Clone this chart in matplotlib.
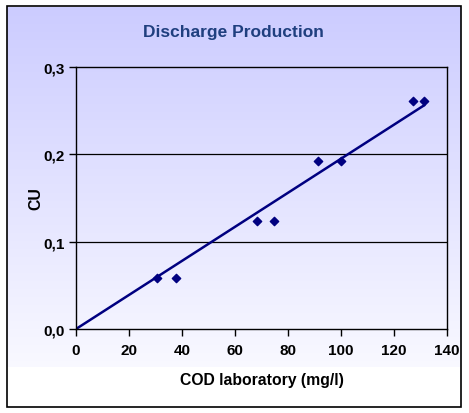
import matplotlib
matplotlib.use("Agg")
import matplotlib.pyplot as plt
import numpy as np
from matplotlib.patches import Rectangle
from matplotlib.ticker import FuncFormatter

plt.rcParams["font.family"] = ["Liberation Sans", "DejaVu Sans"]

# data
cod_lab = [30.6, 37.7, 68.3, 74.7, 91.3, 100.0, 127.2, 131.3]
cu = [0.058, 0.058, 0.124, 0.124, 0.192, 0.192, 0.261, 0.261]
trend_x = [0.0, 131.3]
trend_y = [0.0, 0.256]

W, H = 469, 414
fig = plt.figure(figsize=(W / 100, H / 100), dpi=100)


def fx(px):
    return px / W


def fy(py):
    return 1 - py / H


# gradient background
bg = fig.add_axes([fx(7), fy(368), fx(460) - fx(7), fy(8) - fy(368)])
grad = np.linspace(0, 1, 256).reshape(-1, 1)
top = np.array([0.80, 0.80, 1.0])
bot = np.array([0.975, 0.975, 1.0])
img = top + (bot - top) * grad[:, :, None]
bg.imshow(img, aspect="auto", extent=[0, 1, 0, 1])
bg.axis("off")

# outer border
fig.patches.append(Rectangle((fx(6.5), fy(407.5)), fx(461) - fx(6.5), fy(6.5) - fy(407.5),
                             transform=fig.transFigure, fill=False, edgecolor="black", lw=1.2))

ax = fig.add_axes([fx(76), fy(330), fx(447) - fx(76), fy(68) - fy(330)])
ax.patch.set_alpha(0)
ax.plot(trend_x, trend_y, color="#000080", lw=1.8, zorder=2)
ax.scatter(cod_lab, cu, marker="D", s=18, color="#000080", zorder=3)

ax.set_xlim(0, 140)
ax.set_ylim(0, 0.3)
ax.set_xticks(range(0, 141, 20))
ax.set_yticks([0, 0.1, 0.2, 0.3])
ax.yaxis.set_major_formatter(FuncFormatter(lambda v, p: f"{v:.1f}".replace(".", ",")))
for v in [0.1, 0.2]:
    ax.axhline(v, color="black", lw=0.9, zorder=1)
for s in ax.spines.values():
    s.set_linewidth(1.0)
ax.tick_params(direction="out", length=5, width=1, labelsize=11, pad=5)
ax.tick_params(axis="y", pad=3)
for lab in ax.get_xticklabels() + ax.get_yticklabels():
    lab.set_fontweight("bold")

ax.set_xlabel("COD laboratory (mg/l)", fontsize=11.3, fontweight="bold", labelpad=11)
ax.set_ylabel("CU", fontsize=11.3, fontweight="bold", labelpad=0)

fig.text(fx(233), fy(33), "Discharge Production", ha="center", va="center",
         fontsize=12.5, fontweight="bold", color="#1F3F7F")

fig.savefig("out.png", dpi=100)
